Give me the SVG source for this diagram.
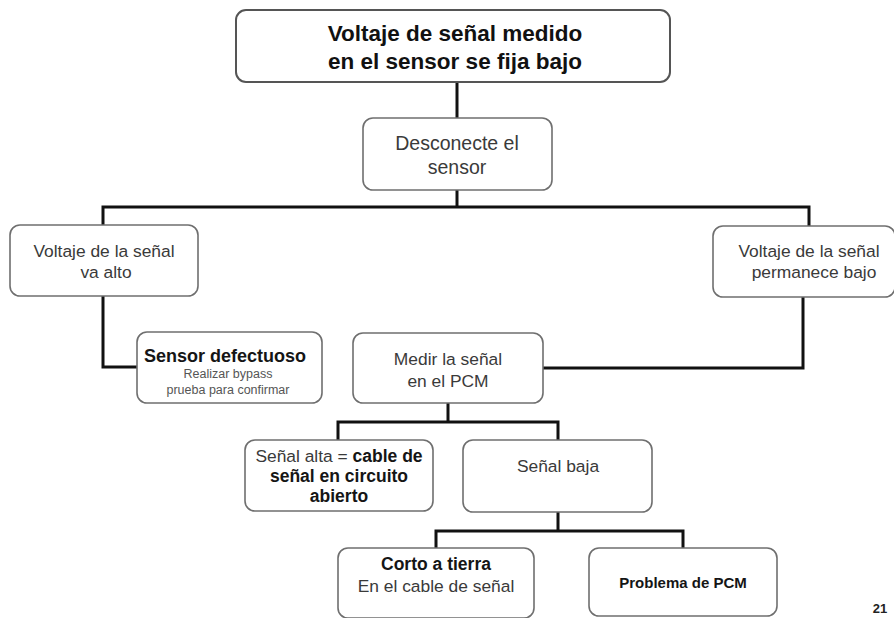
<svg xmlns="http://www.w3.org/2000/svg" width="894" height="618" viewBox="0 0 894 618">
  <style>
    .box { fill: #ffffff; stroke: #6f6f6f; stroke-width: 1.6; }
    .wire { fill: none; stroke: #111111; stroke-width: 3; stroke-linejoin: miter; }
    text { font-family: "Liberation Sans", Arial, sans-serif; text-anchor: middle; fill: #3a3a3a; }
    .title { font-size: 22.5px; font-weight: bold; fill: #111111; }
    .reg { font-size: 17.4px; }
    .bold { font-size: 17.5px; font-weight: bold; fill: #151515; }
    .small { font-size: 12.5px; fill: #555555; }
  </style>
  <rect width="894" height="618" fill="#ffffff"/>

  <!-- connectors -->
  <g id="connectors">
    <path class="wire" d="M457 82 V118"/>
    <path class="wire" d="M457 190 V207"/>
    <path class="wire" d="M103 225 V207 H809 V226"/>
    <path class="wire" d="M103 296 V367 H137"/>
    <path class="wire" d="M803 297 V368 H543"/>
    <path class="wire" d="M448 403 V422"/>
    <path class="wire" d="M338 440 V422 H558 V440"/>
    <path class="wire" d="M558 512 V531"/>
    <path class="wire" d="M436 548 V531 H683 V548"/>
  </g>

  <g id="n-titulo">
    <rect class="box" x="236" y="10" width="434" height="72" rx="10" style="stroke:#555;stroke-width:2"/>
    <text class="title" x="455" y="41">Voltaje de señal medido</text>
    <text class="title" x="455" y="69">en el sensor se fija bajo</text>
  </g>

  <g id="n-desconecte">
    <rect class="box" x="363" y="118" width="189" height="72" rx="10"/>
    <text class="reg" x="457" y="150" style="font-size:19.5px">Desconecte el</text>
    <text class="reg" x="457" y="174" style="font-size:19.5px">sensor</text>
  </g>

  <g id="n-alto">
    <rect class="box" x="10" y="225" width="188" height="71" rx="10"/>
    <text class="reg" x="104" y="257">Voltaje de la señal</text>
    <text class="reg" x="106" y="278">va alto</text>
  </g>

  <g id="n-bajo">
    <rect class="box" x="713" y="226" width="182" height="71" rx="10"/>
    <text class="reg" x="809" y="257">Voltaje de la señal</text>
    <text class="reg" x="814" y="278">permanece bajo</text>
  </g>

  <g id="n-defectuoso">
    <rect class="box" x="137" y="332" width="185" height="71" rx="10"/>
    <text class="bold" x="225" y="362" style="font-size:18px">Sensor defectuoso</text>
    <text class="small" x="228" y="378">Realizar bypass</text>
    <text class="small" x="228" y="394">prueba para confirmar</text>
  </g>

  <g id="n-medir">
    <rect class="box" x="353" y="333" width="190" height="70" rx="10"/>
    <text class="reg" x="448" y="365">Medir la señal</text>
    <text class="reg" x="448" y="387">en el PCM</text>
  </g>

  <g id="n-alta">
    <rect class="box" x="245" y="440" width="188" height="71" rx="10"/>
    <text x="339" y="462" class="reg"><tspan>Señal alta = </tspan><tspan class="bold">cable de</tspan></text>
    <text class="bold" x="339" y="482">señal en circuito</text>
    <text class="bold" x="339" y="502">abierto</text>
  </g>

  <g id="n-baja">
    <rect class="box" x="463" y="440" width="189" height="72" rx="10"/>
    <text class="reg" x="558" y="472">Señal baja</text>
  </g>

  <g id="n-corto">
    <rect class="box" x="338" y="548" width="196" height="70" rx="10"/>
    <text class="bold" x="436" y="570">Corto a tierra</text>
    <text class="reg" x="436" y="592">En el cable de señal</text>
  </g>

  <g id="n-pcm">
    <rect class="box" x="589" y="548" width="188" height="68" rx="10"/>
    <text class="bold" x="683" y="588" style="font-size:15px">Problema de PCM</text>
  </g>

  <!-- page number -->
  <text x="880" y="613" style="font-size:13px;font-weight:bold;fill:#222">21</text>
</svg>
